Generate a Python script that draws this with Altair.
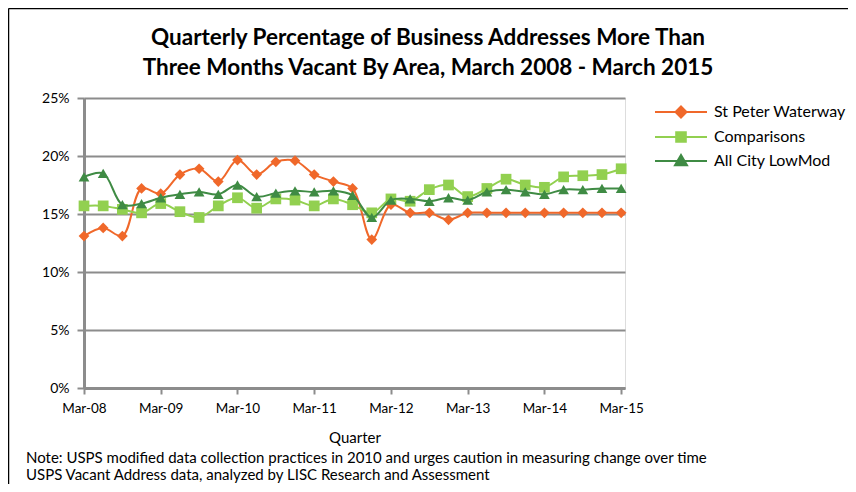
import altair as alt
import pandas as pd

series_names = ["St Peter Waterway", "Comparisons", "All City LowMod"]
series_colors = ["#F0682A", "#92D050", "#3F8B44"]
series_shapes = ["diamond", "square", "triangle-up"]

tick_labels = ["Mar-08", "Mar-09", "Mar-10", "Mar-11", "Mar-12", "Mar-13", "Mar-14", "Mar-15"]

st_peter = [13.1, 13.8, 13.1, 17.2, 16.75, 18.4, 18.9, 17.8, 19.65, 18.4, 19.5, 19.6, 18.4, 17.8, 17.2,
            12.8, 15.8, 15.1, 15.1, 14.5, 15.1, 15.1, 15.1, 15.1, 15.1, 15.1, 15.1, 15.1, 15.1]
comparisons = [15.7, 15.7, 15.4, 15.1, 15.9, 15.2, 14.7, 15.7, 16.4, 15.5, 16.3, 16.2, 15.7, 16.3, 15.8,
               15.1, 16.3, 16.1, 17.1, 17.5, 16.5, 17.2, 18.0, 17.5, 17.3, 18.2, 18.3, 18.4, 18.9]
all_city = [18.2, 18.5, 15.8, 15.9, 16.4, 16.7, 16.9, 16.7, 17.5, 16.5, 16.8, 17.0, 16.9, 17.0, 16.6,
            14.7, 16.2, 16.3, 16.1, 16.4, 16.2, 16.9, 17.1, 16.9, 16.7, 17.1, 17.1, 17.2, 17.2]

title_lines = ["Quarterly  Percentage of Business Addresses More Than",
               "Three Months  Vacant By Area, March 2008  -  March 2015"]

notes = ["Note: USPS modified data collection practices in 2010 and urges caution in measuring change over time",
         "USPS Vacant Address data, analyzed by LISC Research and Assessment"]

rows = []
for name, vals in zip(series_names, [st_peter, comparisons, all_city]):
    for i, v in enumerate(vals):
        rows.append({"q": i, "value": v / 100.0, "series": name})
df = pd.DataFrame(rows)

FONT = "Lato"
GRID = "#8C8C8C"

label_expr = "[" + ",".join("'%s'" % t for t in tick_labels) + "][round(datum.value/4)]"

# legend symbols: a line with the marker in its middle
legend_paths = [
    "M-2.6,0H2.6M0,-0.55L0.55,0L0,0.55L-0.55,0Z",
    "M-2.6,0H2.6M-0.48,-0.48H0.48V0.48H-0.48Z",
    "M-2.6,0H2.6M0,-0.6L0.6,0.42H-0.6Z",
]

x_enc = alt.X("q:Q", scale=alt.Scale(domain=[0, 28.2], nice=False, zero=False),
              axis=alt.Axis(values=list(range(0, 29, 4)), labelExpr=label_expr, title="Quarter",
                            grid=False, domainColor=GRID, domainWidth=3, tickColor=GRID, tickWidth=2,
                            tickSize=6, labelPadding=7, labelFontSize=13.5, labelFont=FONT,
                            labelColor="#000", titleFont=FONT, titleFontSize=15, titleFontWeight="normal",
                            titleColor="#000", titlePadding=16, labelFlush=False))
y_enc = alt.Y("value:Q", scale=alt.Scale(domain=[0, 0.25], nice=False),
              axis=alt.Axis(values=[0, 0.05, 0.10, 0.15, 0.20, 0.25], format=".0%", title=None,
                            gridColor=GRID, gridWidth=2, domainColor=GRID, domainWidth=3,
                            tickColor=GRID, tickWidth=2, tickSize=7, labelPadding=8,
                            labelFontSize=14, labelFont=FONT, labelColor="#000"))

layers = []
for k, (name, col, shp) in enumerate(zip(series_names, series_colors, series_shapes)):
    base = alt.Chart(df).transform_filter(alt.datum.series == name)
    ln = base.mark_line(strokeWidth=2, interpolate="catmull-rom", color=col).encode(
        x=x_enc if k == 0 else alt.X("q:Q"),
        y=y_enc if k == 0 else alt.Y("value:Q"),
        order=alt.Order("q:Q"),
    )
    pt = base.mark_point(filled=True, size=115, opacity=1, shape=shp, color=col).encode(
        x="q:Q", y="value:Q",
    )
    layers += [ln, pt]

legend_spec = alt.Legend(title=None, orient="none", legendX=586, legendY=3,
                         labelFont=FONT, labelFontSize=16, labelColor="#000",
                         symbolSize=400, symbolStrokeWidth=2, symbolOpacity=1,
                         rowPadding=4, labelOffset=22)

legend_layer = alt.Chart(df).mark_point(filled=True, opacity=0).encode(
    x="q:Q", y="value:Q",
    fill=alt.Fill("series:N", scale=alt.Scale(domain=series_names, range=series_colors), legend=legend_spec),
    stroke=alt.Stroke("series:N", scale=alt.Scale(domain=series_names, range=series_colors), legend=legend_spec),
    shape=alt.Shape("series:N", scale=alt.Scale(domain=series_names, range=legend_paths), legend=legend_spec),
)
layers.append(legend_layer)

title_layer = alt.Chart(pd.DataFrame({"text": ["\n".join(title_lines)]})).mark_text(
    align="center", baseline="middle", font=FONT, fontSize=22.5, fontWeight="bold", color="#000",
    lineBreak="\n", lineHeight=30).encode(
    x=alt.value(344),
    y=alt.value(-60),
    text="text:N",
)
layers.append(title_layer)

note_layer = alt.Chart(pd.DataFrame({"text": ["\n".join(notes)]})).mark_text(
    align="left", baseline="middle", font=FONT, fontSize=15, color="#000", lineBreak="\n",
    lineHeight=17).encode(
    x=alt.value(-58),
    y=alt.value(360),
    text="text:N",
)
layers.append(note_layer)

# outer chart frame (left and top edges)
frame_df = pd.DataFrame({"k": [0]})
frame_left = alt.Chart(frame_df).mark_rule(color="#000", strokeWidth=1.5).encode(
    x=alt.value(-75.5), y=alt.value(-89.5), y2=alt.value(400))
frame_top = alt.Chart(frame_df).mark_rule(color="#000", strokeWidth=1.5).encode(
    x=alt.value(-75.5), x2=alt.value(800), y=alt.value(-89.5))
layers += [frame_left, frame_top]

chart = alt.layer(*layers).properties(
    width=541, height=290,
    autosize=alt.AutoSizeParams(type="none"),
    padding={"left": 76, "top": 90, "right": 223, "bottom": 96},
).configure_view(stroke=GRID, strokeWidth=2).configure(background="white")

chart.save("out.html", embed_options={"renderer": "svg", "actions": False})
